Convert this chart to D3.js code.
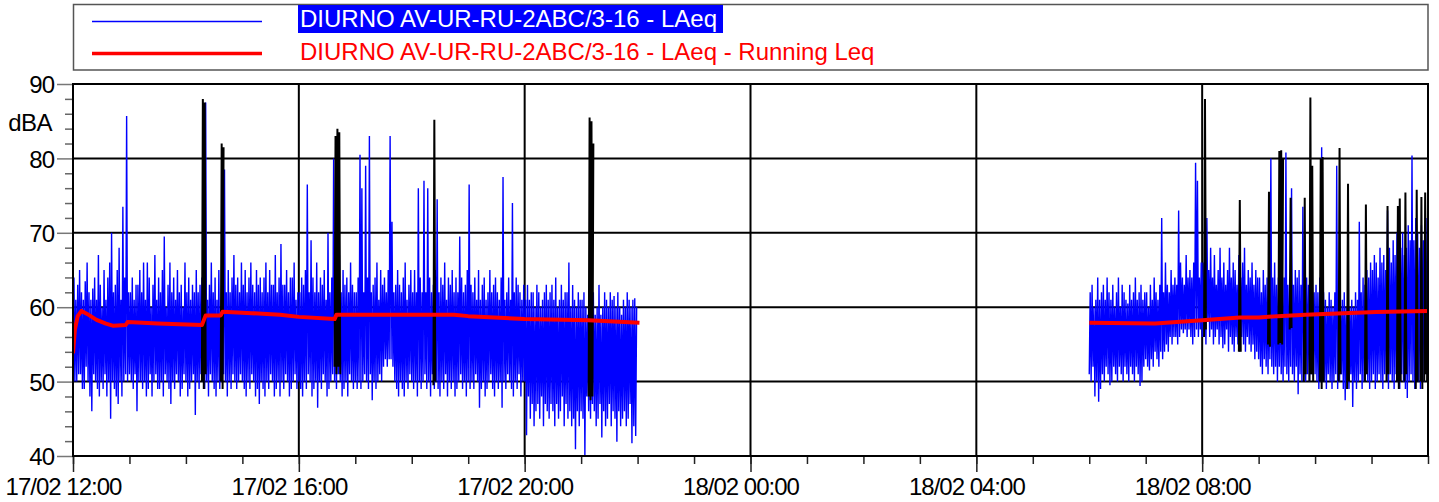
<!DOCTYPE html>
<html>
<head>
<meta charset="utf-8">
<script src="https://cdn.jsdelivr.net/npm/d3@7"></script>
<style>
  body { margin: 0; background: #fff; }
  svg { display: block; font-family: "Liberation Sans", Arial, sans-serif; }
</style>
</head>
<body>
<svg id="chart" width="1439" height="502"></svg>
<script>
const seriesName = 'DIURNO AV-UR-RU-2ABC/3-16 - LAeq';
const runningName = 'DIURNO AV-UR-RU-2ABC/3-16 - LAeq - Running Leq';
const yUnit = 'dBA';
const yTicks = [40, 50, 60, 70, 80, 90];
const xStart = '17/02 12:00';
const xEnd = '18/02 12:00';

// LAeq, one array per hour (1 min samples)
const laeq1200 = [52,64,50,61, 50,63,51,65, 51,62,49,61, 49,63.5,52,66, 50,62,48,61, 46,62.5,51,64, 50,61,49,67, 48,63,50,60, 49,65,51,61, 48,64,50,66, 45,70,50,62, 49,63,48,65, 47,68,50,61, 48,73.5,50,64, 51,85.7,50,62];
const laeq1300 = [51,62,50,64, 49,61,51,63, 46,63,50,65, 50,62,49,66, 50,61,48,66, 49,64,51,60, 48,63,50,67, 51,61,49,64, 49,62,50,65, 48,69.5,51,60, 50,63,49,66, 47,62,50,64, 49,61,51,65, 50,62,48,63, 49,60,51,66];
const laeq1400 = [50,62,48,64, 49,61,50,63, 51,62,45.5,65, 50,62,49,63, 51,64,50,62, 49,87.5,50,61, 48,63,51,66, 50,62,49,64, 48,61,50,65, 49,60,50,63, 51,78.5,50,62, 48,65,50,62, 49,64,51,67, 50,63,49,64, 50,62,51,66];
const laeq1500 = [50,63,49,65, 48,62,50,64, 49,66,51,63, 50,62,48,65, 49,63,47,64, 50,62,49,64, 48,66,50,62, 49,65,51,63, 50,63,48,67, 49,62,50,64, 48,68.5,50,63, 49,63,51,65, 50,62,48,64, 49,64,50,66, 51,61,49,62];
const laeq1600 = [50,62,49,64, 48,63,50,65, 49,76.5,51,62, 50,69,48,64, 49,62,50,66, 46.5,62,50,64, 49,63,51,65, 50,61,48,70, 49,62,50,64, 51,80,50,62, 49,64,51,69, 50,62,48,65, 49,63,50,64, 48,62,51,66, 50,63,49,62];
const laeq1700 = [50,62,49,64, 50,80.5,49,76, 50,62,51,79, 50,64,49,83, 51,62,47.5,63, 50,64,49,66, 50,61,51,65, 50,63,52,64, 53,62,52,65, 53,83,53,71.5, 52,62,50,63, 49,65,48,63, 50,62,49,64, 48,66,50,61, 49,63,51,65];
const laeq1800 = [50,62,49,65, 50,62,48,76, 50,64,49,62, 50,77,51,62, 49,76,50,64, 48,62,51,63, 49,65,50,74.5, 49,62,48,64, 50,63,49,66, 51,61,48,64, 50,63,49,65, 50,62,48,64, 49,62,50,69.5, 51,64,49,62, 50,63,48,65];
const laeq1900 = [50,76.5,49,63, 50,62,49,64, 51,61,50,65, 46.5,61,49,63, 50,64,48,61, 49,62,50,65, 51,62,49,63, 48,64,50,62, 49,61,50,64, 46.5,77.5,50,61, 49,62,51,64, 50,61,49,74, 48,62,50,64, 49,63,51,62, 48,61,50,63];
const laeq2000 = [50,61,42.8,63, 48,61,45,62, 47,62,44,60, 46,63,47,62, 45,60,48,61, 44,62,47,63, 46,61,45,62, 47,63,46,61, 44,64,47,60, 45,61,46,63, 48,61,44,62, 47,62,45,66, 46,60,44,63, 45,61,40.9,60, 46,62,44,61];
const laeq2100 = [46,61,45,62, 40,60,48,59, 46,61,45,68, 47,62,46,59, 44,60,45,63, 47,59,42.5,60, 46,62,44,61, 45,60,47,62, 44,61,46,61.5, 45,60,41.9,62, 46,60,44,59, 45,61,46,60, 44,62,45,61, 47,60,41.7,61, 44,61.2,42.7,60];

const laeq0600 = [51,62,50,63, 52,60,48,61, 50,64,47.3,61, 49,62,51,63, 50,61,52,64, 51,62,49.5,61, 50,63,52,60, 51,62,50,64, 52,60,51,63, 50,62,52,61, 51,60.5,50,63, 52,61,51,62, 50,64,52,61, 51,62,49.4,63, 50,61,52,62];
const laeq0700 = [53,62,52,60, 51.5,63,53,61, 52,64,54,62, 53,61,52,63, 54,72,53,62, 54,66,55,63, 54,62,56,65, 55,63,56,64, 56,63,55,73, 56,66,57,64, 56.5,63,57,67, 56,64,57,65, 56,64,55,66, 56,79.4,57,77, 56,64,57,66];
const laeq0800 = [56,66,57,64, 55,72,58,65, 56,68,57,64, 55,67,56,63, 57,65,55,68, 56,64,54.5,66, 55,63,57,65, 54,68,56,64, 55,66,54,65, 56,63,55,67, 54,64,56,66, 55,68,54,63, 56,65,55,64, 54,66,55,63, 53,65,54,64];
const laeq0900 = [53,64,52,62, 51,65,53,63, 52,64,51,63, 53,80,52,64, 51,66,52,63, 50,64,52,65, 51,63,50,64, 52,80.8,51,63, 50,64,52,76, 51,63,50,65, 52,64,48.3,65, 51,63,50,73.5, 52,62,50,64, 51,63,50,62, 51,64,52,62];
const laeq1000 = [51,63,50,62, 49,64,50,81.5, 51,62,50,61, 49,60,51,62, 50,61,49,60, 50,62,51,79, 49,61,50,60, 51,61,49,62, 47.5,60,50,61, 49,60,51,61, 46.6,60,50,62, 49,61,50,71.5, 51,62,49,64, 50,63,51,65, 50,64,49,66];
const laeq1100 = [50,65,51,67, 49,66,50,64, 51,68,50,66, 49,67,51,65, 50,73,49,68, 51,66,50,69, 49,67,51,70, 50,66,49,68, 51,70,50,67, 49,68,47.8,71, 50,69,51,80.4, 50,69,49,72, 51,70,50,68, 49,71,51,69, 50,70,51,72];

const afternoonHours = [
  ['17/02 12:00', laeq1200], ['17/02 13:00', laeq1300], ['17/02 14:00', laeq1400],
  ['17/02 15:00', laeq1500], ['17/02 16:00', laeq1600], ['17/02 17:00', laeq1700],
  ['17/02 18:00', laeq1800], ['17/02 19:00', laeq1900], ['17/02 20:00', laeq2000],
  ['17/02 21:00', laeq2100]
];
const morningHours = [
  ['18/02 06:00', laeq0600], ['18/02 07:00', laeq0700], ['18/02 08:00', laeq0800],
  ['18/02 09:00', laeq0900], ['18/02 10:00', laeq1000], ['18/02 11:00', laeq1100]
];

// marked (black) stretches, 1 min samples
const markedEvents = [
  ['17/02 14:17', [50,88,49,87.5,51]],
  ['17/02 14:37', [50,82,49,81.5]],
  ['17/02 16:38', [52,83,51,84,52,83.5,51]],
  ['17/02 18:23', [49.5,85.2,50]],
  ['17/02 21:08', [48,85.5,47.5,85,48,82]],
  ['18/02 08:02', [56,88,57]],
  ['18/02 08:39', [54,74.4,54]],
  ['18/02 09:10', [55,75.5,54.7]],
  ['18/02 09:21', [55,81,55.2,81.1,55,80]],
  ['18/02 09:33', [57,74.7,57.2]],
  ['18/02 09:48', [50,74.7,51]],
  ['18/02 09:54', [50,88.2,51,79,50]],
  ['18/02 10:05', [50,80,49,80.2,50]],
  ['18/02 10:25', [50,81.4,51]],
  ['18/02 10:34', [49,76.6,50]],
  ['18/02 10:53', [50,73.8,51]],
  ['18/02 11:16', [50,73.6,51]],
  ['18/02 11:27', [50,73.6,49,74.6,50]],
  ['18/02 11:35', [50,75.4,51]],
  ['18/02 11:47', [49,75.8,50]],
  ['18/02 11:52', [50,74.8,49]],
  ['18/02 11:56', [50,75.4,51]],
  ['18/02 11:59', [50,74,50]]
];

const runningLeqDay = [
  ['17/02 12:00', 53.8], ['17/02 12:02', 57], ['17/02 12:05', 58.8], ['17/02 12:09', 59.5],
  ['17/02 12:15', 59.1], ['17/02 12:25', 58.3], ['17/02 12:35', 57.8], ['17/02 12:43', 57.5],
  ['17/02 12:56', 57.6], ['17/02 12:58', 58.0], ['17/02 13:30', 57.8], ['17/02 14:17', 57.6],
  ['17/02 14:21', 58.9], ['17/02 14:37', 58.9], ['17/02 14:39', 59.4], ['17/02 15:10', 59.2],
  ['17/02 15:40', 59.0], ['17/02 16:00', 58.7], ['17/02 16:38', 58.4], ['17/02 16:40', 59.0],
  ['17/02 18:45', 59.0], ['17/02 19:00', 58.8], ['17/02 20:00', 58.4], ['17/02 21:08', 58.25],
  ['17/02 22:02', 57.9]
];
const runningLeqMorning = [
  ['18/02 06:00', 57.9], ['18/02 07:10', 57.8], ['18/02 08:00', 58.25], ['18/02 08:40', 58.6],
  ['18/02 09:00', 58.6], ['18/02 09:20', 58.8], ['18/02 09:50', 59.0], ['18/02 10:30', 59.2],
  ['18/02 11:05', 59.35], ['18/02 12:00', 59.5]
];

const parse = d3.timeParse('%d/%m %H:%M');
const fmt = d3.timeFormat('%d/%m %H:%M');

const plotLeft = 73, plotRight = 1428, plotTop = 84, plotBottom = 456;

const x = d3.scaleTime().domain([parse(xStart), parse(xEnd)]).range([plotLeft, plotRight]);
const y = d3.scaleLinear().domain([40, 90]).range([plotBottom, plotTop]);

function hourPoints(hours) {
  const pts = [];
  hours.forEach(([start, vals]) => {
    const t0 = parse(start).getTime();
    const step = 3600000 / vals.length;
    vals.forEach((v, i) => pts.push({ t: new Date(t0 + i * step), v }));
  });
  return pts;
}

const svg = d3.select('#chart');

svg.append('defs').append('clipPath').attr('id', 'plot-clip')
  .append('rect').attr('x', plotLeft).attr('y', plotTop)
  .attr('width', plotRight - plotLeft).attr('height', plotBottom - plotTop);

// legend
const legend = svg.append('g').classed('legend', true);
legend.append('rect')
  .attr('x', 73.5).attr('y', 4.5).attr('width', 1354.5).attr('height', 65.5)
  .attr('fill', '#fff').attr('stroke', '#555').attr('stroke-width', 1.5);
legend.append('line').attr('x1', 92).attr('x2', 262).attr('y1', 21.5).attr('y2', 21.5)
  .attr('stroke', '#0000ff').attr('stroke-width', 1.4);
legend.append('line').attr('x1', 92).attr('x2', 262).attr('y1', 53.5).attr('y2', 53.5)
  .attr('stroke', '#ff0000').attr('stroke-width', 3.5);
const t1 = legend.append('text').attr('x', 300).attr('y', 27).attr('font-size', 24)
  .attr('fill', '#fff').text(seriesName);
const w1 = t1.node().getComputedTextLength();
legend.insert('rect', 'text').attr('x', 298).attr('y', 5).attr('width', w1 + 8).attr('height', 28)
  .attr('fill', '#0000ff');
legend.append('text').attr('x', 300).attr('y', 60).attr('font-size', 24)
  .attr('fill', '#ff0000').text(runningName);

// grid
const grid = svg.append('g').classed('grid', true);
const gridTimes = d3.timeHour.every(4).range(parse(xStart), parse(xEnd)).slice(1);
grid.selectAll('.vgrid').data(gridTimes).enter().append('line')
  .attr('x1', d => x(d)).attr('x2', d => x(d)).attr('y1', plotTop).attr('y2', plotBottom)
  .attr('stroke', '#000').attr('stroke-width', 2);
grid.selectAll('.hgrid').data(yTicks.slice(1, -1)).enter().append('line')
  .attr('x1', plotLeft).attr('x2', plotRight).attr('y1', d => y(d)).attr('y2', d => y(d))
  .attr('stroke', '#000').attr('stroke-width', 2);

// data
const line = d3.line().x(d => x(d.t)).y(d => y(d.v));
const plot = svg.append('g').attr('clip-path', 'url(#plot-clip)');

[hourPoints(afternoonHours), hourPoints(morningHours)].forEach(pts => {
  plot.append('path').datum(pts).attr('d', line)
    .attr('fill', 'none').attr('stroke', '#0000ff').attr('stroke-width', 1.4)
    .attr('stroke-linejoin', 'bevel');
});

markedEvents.forEach(([start, vals]) => {
  const t0 = parse(start).getTime();
  const pts = vals.map((v, i) => ({ t: new Date(t0 + i * 60000), v }));
  plot.append('path').datum(pts).attr('d', line)
    .attr('fill', 'none').attr('stroke', '#000').attr('stroke-width', 2)
    .attr('stroke-linejoin', 'bevel');
});

[runningLeqDay, runningLeqMorning].forEach(arr => {
  const pts = arr.map(([t, v]) => ({ t: parse(t), v }));
  plot.append('path').datum(pts).attr('d', line)
    .attr('fill', 'none').attr('stroke', '#ff0000').attr('stroke-width', 4)
    .attr('stroke-linejoin', 'round');
});

// axes
const yMinor = svg.append('g').attr('transform', `translate(${plotLeft},0)`)
  .call(d3.axisLeft(y).tickValues(d3.range(40, 91, 2).filter(v => v % 10)).tickSize(8).tickFormat(''));
yMinor.select('.domain').remove();
yMinor.selectAll('line').attr('stroke', '#666').attr('stroke-width', 1.5);

const yMajor = svg.append('g').attr('transform', `translate(${plotLeft},0)`)
  .call(d3.axisLeft(y).tickValues(yTicks).tickSize(16).tickPadding(3));
yMajor.select('.domain').remove();
yMajor.attr('font-family', null);
yMajor.selectAll('line').attr('stroke', '#777').attr('stroke-width', 1.5);
yMajor.selectAll('text').attr('font-size', 24).attr('letter-spacing', -1)
  .attr('fill', '#000').attr('dy', '0.36em');

svg.append('text').attr('x', 52).attr('y', 131).attr('text-anchor', 'end')
  .attr('font-size', 24).attr('letter-spacing', -0.5).text(yUnit);

const xMinor = svg.append('g').attr('transform', `translate(0,${plotBottom})`)
  .call(d3.axisBottom(x).ticks(d3.timeHour.every(1)).tickSize(8).tickFormat(''));
xMinor.select('.domain').remove();
xMinor.selectAll('line').attr('stroke', '#222').attr('stroke-width', 1.5);

const xMajor = svg.append('g').attr('transform', `translate(0,${plotBottom})`)
  .call(d3.axisBottom(x).tickValues(d3.timeHour.every(4).range(parse(xStart), parse(xEnd)))
    .tickSize(16).tickFormat(fmt));
xMajor.select('.domain').remove();
xMajor.attr('font-family', null);
xMajor.selectAll('line').attr('stroke', '#222').attr('stroke-width', 1.5);
xMajor.selectAll('text').attr('font-size', 24).attr('letter-spacing', -1)
  .attr('fill', '#000').attr('y', 39).attr('dy', null).attr('dx', -10);

// frame
svg.append('rect').attr('x', plotLeft).attr('y', plotTop)
  .attr('width', plotRight - plotLeft).attr('height', plotBottom - plotTop)
  .attr('fill', 'none').attr('stroke', '#000').attr('stroke-width', 2);
</script>
</body>
</html>
